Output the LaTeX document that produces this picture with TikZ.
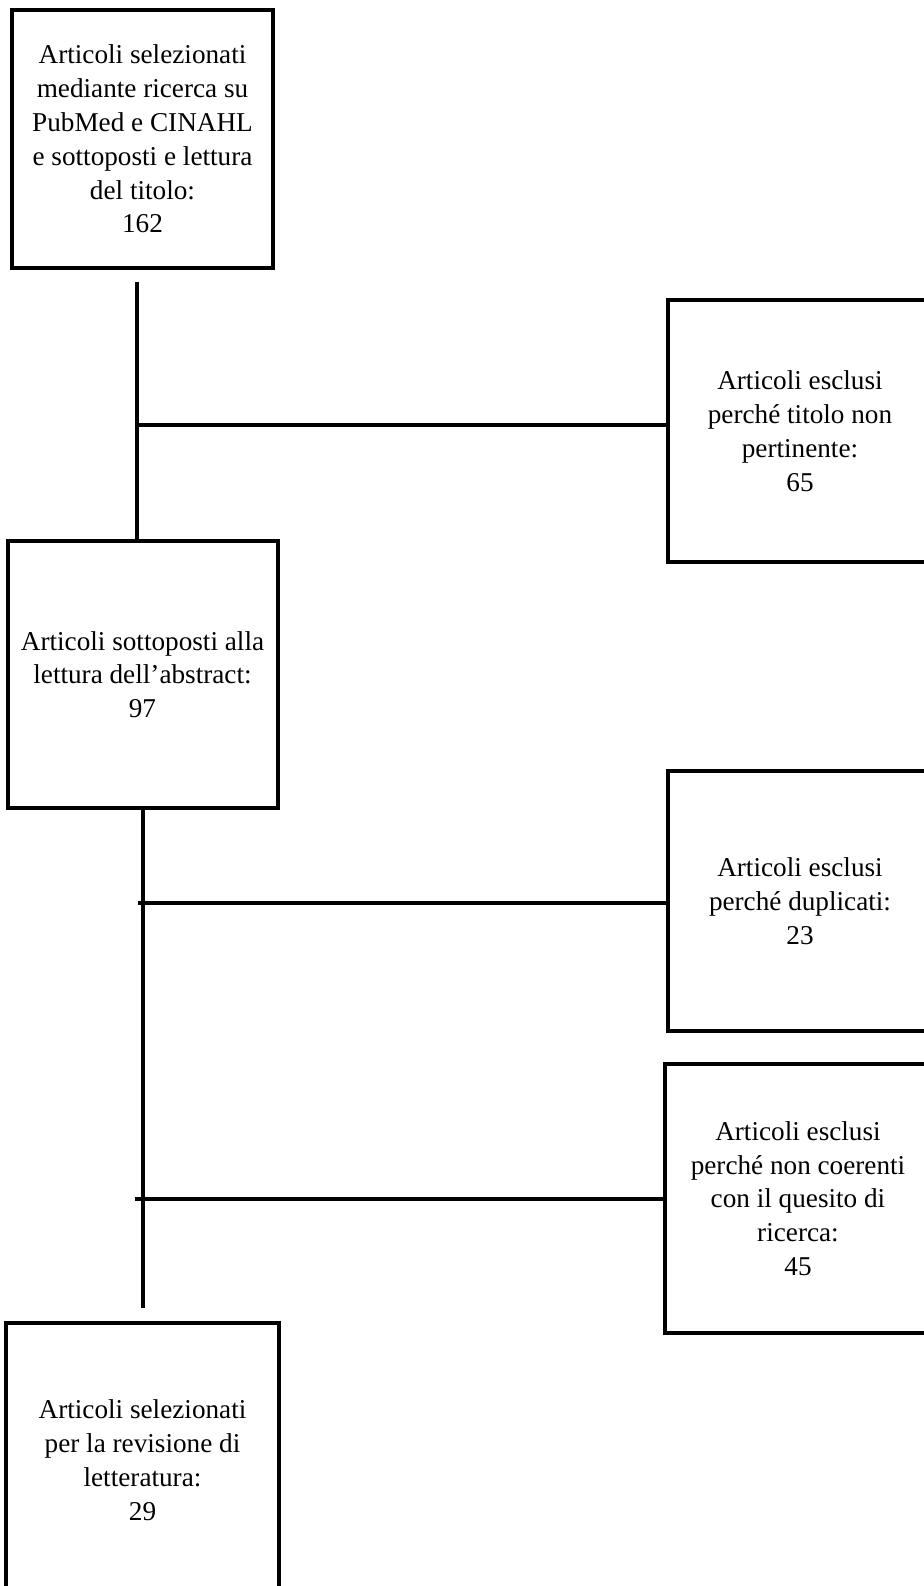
\documentclass[tikz,border=0pt]{standalone}
\usepackage{fontspec}
\setmainfont{Liberation Serif}
\usetikzlibrary{positioning}
\newdimen\PX
\PX=0.5pt

\begin{document}
\begin{tikzpicture}
    [
    on grid,
    line width=2pt,
    every box/.style={draw, line width=2pt, align=center, inner sep=0pt,
        font=\fontsize{13.6pt}{16.9pt}\selectfont},
    box/.style={every box, minimum width=#1},
    ]

    \useasboundingbox (0,0) rectangle (923\PX,-1586\PX);

    \node[box=261\PX, minimum height=258\PX] (box_found) at (142.5\PX,-139\PX)
    {Articoli selezionati\\ mediante ricerca su\\ PubMed e CINAHL\\ e sottoposti e lettura\\ del titolo:\\ 162};

    \node[box=264\PX, minimum height=262\PX, below right = 292\PX and 657.5\PX of box_found] (box_title)
    {Articoli esclusi\\ perché titolo non\\ pertinente:\\ 65};

    \node[box=270\PX, minimum height=267\PX, below = 535.5\PX of box_found] (box_abstract)
    {Articoli sottoposti alla\\ lettura dell’abstract:\\ 97};

    \node[box=264\PX, minimum height=260\PX, below = 470\PX of box_title] (box_dupl)
    {Articoli esclusi\\ perché duplicati:\\ 23};

    \node[box=266\PX, minimum height=269\PX, below = 297.5\PX of box_dupl, xshift=-2\PX] (box_query)
    {Articoli esclusi\\ perché non coerenti\\ con il quesito di\\ ricerca:\\ 45};

    \node[box=273\PX, minimum height=274\PX, below = 785.5\PX of box_abstract] (box_review)
    {Articoli selezionati\\ per la revisione di\\ letteratura:\\ 29};

    % first trunk, title screening
    \coordinate (trunk_top) at ([xshift=-5.5\PX, yshift=-12\PX]box_found.south);
    \coordinate (join_title) at ([yshift=-143\PX]trunk_top);
    \draw (trunk_top) -- (trunk_top |- box_abstract.north);
    \draw (join_title) -- (join_title -| box_title.west);

    % second trunk, abstract screening
    \coordinate (trunk_end) at ([yshift=13\PX]box_review.north);
    \draw (box_abstract.south) -- (box_abstract.south |- trunk_end);
    \draw ([xshift=-5\PX, yshift=-2\PX]box_abstract.south |- box_dupl.west) -- ([yshift=-2\PX]box_dupl.west);
    \draw ([xshift=-8\PX]box_abstract.south |- box_query.west) -- (box_query.west);
\end{tikzpicture}
\end{document}
